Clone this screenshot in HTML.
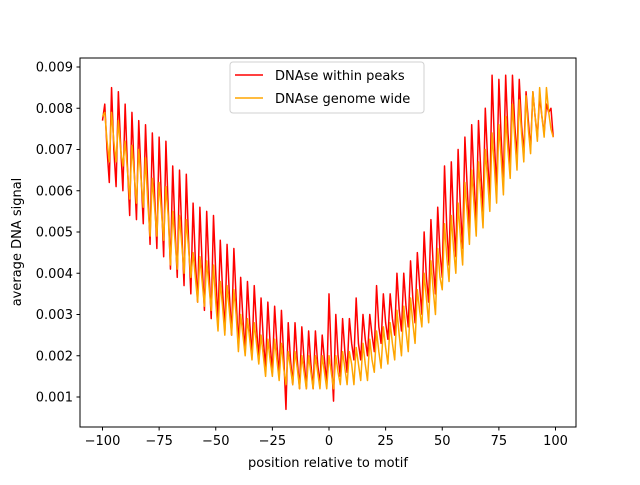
<!DOCTYPE html>
<html><head><meta charset="utf-8"><style>
body{margin:0;background:#fff}
svg text{font-family:"DejaVu Sans","Liberation Sans",sans-serif;font-size:13px;fill:#000}
</style></head><body>
<svg id="chart" width="640" height="480" xmlns="http://www.w3.org/2000/svg">
<rect width="640" height="480" fill="#fff"/>
<g id="series"></g>
<rect x="80" y="58" width="496" height="369" fill="none" stroke="#000" stroke-width="1"/>
<g id="xticks"></g><g id="yticks"></g>
<text x="328" y="467" text-anchor="middle">position relative to motif</text>
<text transform="translate(21,242) rotate(-90)" text-anchor="middle">average DNA signal</text>
<g>
<rect x="230" y="62" width="194" height="51" rx="3" fill="#fff" stroke="#ccc" opacity="0.9"/>
<g><line x1="235" y1="75" x2="263" y2="75" stroke="#ff0000" stroke-width="1.5"/><text x="275" y="80">DNAse within peaks</text></g>
<g><line x1="235" y1="98" x2="263" y2="98" stroke="#ffa500" stroke-width="1.5"/><text x="275" y="103">DNAse genome wide</text></g>
</g>
</svg>
<script>
// values in units of 1e-3
const positions = Array.from({length:200},(_,i)=>i-100);
const peaksSignal = [
7.7,8.1,7.0,6.2,8.5,7.0,6.1,8.4,7.1,6.0,
8.1,6.6,5.4,7.9,6.5,5.3,7.7,6.4,5.2,7.6,
6.1,4.7,7.4,5.9,4.6,7.3,5.8,4.4,7.2,5.6,
4.1,6.6,5.1,3.9,6.5,5.0,3.7,6.4,4.8,3.5,
5.7,4.3,3.3,5.6,4.2,3.1,5.5,4.1,2.9,5.4,
4.0,2.8,4.8,3.6,2.6,4.7,3.5,2.5,4.6,3.4,
2.2,3.9,2.9,2.1,3.8,2.8,2.0,3.7,2.7,1.9,
3.4,2.4,1.7,3.3,2.3,1.6,3.2,2.3,1.5,3.1,
2.0,0.7,2.8,1.9,1.3,2.8,1.9,1.2,2.7,1.9,
1.2,2.6,1.8,1.2,2.6,1.8,1.3,2.5,1.9,1.3,
3.5,2.0,0.9,3.0,2.0,1.5,2.9,2.1,1.6,2.9,
2.3,1.9,3.4,2.3,1.9,3.0,2.4,2.0,3.0,2.5,
2.1,3.7,2.7,2.3,3.5,2.8,2.4,3.5,2.9,2.5,
4.0,3.1,2.6,4.0,3.2,2.7,4.3,3.4,2.8,4.5,
3.7,3.0,5.0,3.9,3.3,5.3,4.2,3.5,5.6,4.5,
3.9,6.6,5.1,4.2,6.7,5.3,4.4,7.0,5.6,4.6,
7.3,6.1,5.0,7.6,6.3,5.2,7.7,6.5,5.5,8.0,
6.8,5.8,8.8,7.2,6.0,8.7,7.3,6.2,8.8,7.4,
6.6,8.8,7.6,6.8,8.7,7.6,6.9,8.4,7.7,7.0,
8.4,7.8,7.3,8.3,7.8,7.4,8.1,7.9,8.0,7.3];
const genomeSignal = [
7.8,7.9,7.2,6.7,7.9,7.2,6.7,7.7,7.0,6.6,
7.2,6.5,5.8,7.1,6.4,5.7,7.0,6.3,5.6,6.8,
5.7,4.9,6.3,5.6,4.9,6.2,5.5,4.8,6.1,5.4,
4.2,5.5,4.8,4.1,5.4,4.7,4.0,5.3,4.6,3.9,
4.5,3.9,3.3,4.4,3.8,3.2,4.3,3.7,3.1,4.2,
3.3,2.6,3.8,3.2,2.5,3.7,3.1,2.5,3.6,3.0,
2.1,3.0,2.5,2.0,2.9,2.4,1.9,2.8,2.3,1.8,
2.5,2.0,1.5,2.4,1.9,1.5,2.4,1.9,1.4,2.3,
1.7,1.3,2.1,1.7,1.3,2.1,1.7,1.2,2.0,1.6,
1.2,2.0,1.6,1.2,2.0,1.6,1.2,2.0,1.6,1.2,
2.0,1.6,1.2,2.0,1.6,1.3,2.1,1.7,1.3,2.1,
1.8,1.3,2.2,1.8,1.4,2.3,1.8,1.4,2.4,1.9,
1.6,2.6,2.1,1.7,2.7,2.2,1.8,2.8,2.3,1.9,
3.1,2.5,2.0,3.2,2.6,2.1,3.4,2.8,2.3,3.6,
3.1,2.7,4.0,3.4,2.8,4.3,3.6,3.0,4.6,3.9,
3.6,5.2,4.4,3.8,5.4,4.6,4.0,5.7,4.9,4.2,
6.2,5.5,4.7,6.5,5.7,4.9,6.7,5.9,5.1,7.0,
6.3,5.5,7.4,6.6,5.7,7.6,6.8,5.9,7.8,7.0,
6.3,8.1,7.3,6.5,8.2,7.4,6.7,8.3,7.5,6.9,
8.4,7.8,7.2,8.5,7.8,7.3,8.5,7.9,7.5,7.3];
const xTickValues = [-100,-75,-50,-25,0,25,50,75,100];
const yTickValues = [1,2,3,4,5,6,7,8,9];
const yTickLabels = ["0.001","0.002","0.003","0.004","0.005","0.006","0.007","0.008","0.009"];

const NS="http://www.w3.org/2000/svg";
function xs(v){return 102.5+(v+100)*2.265;}
function ys(v){return 397-(v-1)*41.25;}
function mk(t,a,p){const e=document.createElementNS(NS,t);for(const k in a)e.setAttribute(k,a[k]);p.appendChild(e);return e;}
const sg=document.getElementById('series');
function draw(vals,color,name){
  const d=vals.map((v,i)=>(i?'L':'M')+xs(positions[i]).toFixed(2)+','+ys(v).toFixed(2)).join('');
  const p=mk('path',{d:d,fill:'none',stroke:color,'stroke-width':1.5,'stroke-linejoin':'round'},sg);
  
  
}
draw(peaksSignal,'#ff0000','line-dnase-within-peaks');
draw(genomeSignal,'#ffa500','line-dnase-genome-wide');
const xt=document.getElementById('xticks');
xTickValues.forEach(v=>{
  const g=mk('g',{},xt);
  
  
  mk('line',{x1:xs(v),x2:xs(v),y1:427,y2:430.5,stroke:'#000'},g);
  const t=mk('text',{x:xs(v),y:445,'text-anchor':'middle'},g);t.textContent=String(v).replace('-','\u2212');
});
const yt=document.getElementById('yticks');
yTickValues.forEach((v,i)=>{
  const g=mk('g',{},yt);
  
  
  mk('line',{x1:76.5,x2:80,y1:ys(v),y2:ys(v),stroke:'#000'},g);
  const t=mk('text',{x:73,y:ys(v)+4.5,'text-anchor':'end'},g);t.textContent=yTickLabels[i];
});
</script>
</body></html>
